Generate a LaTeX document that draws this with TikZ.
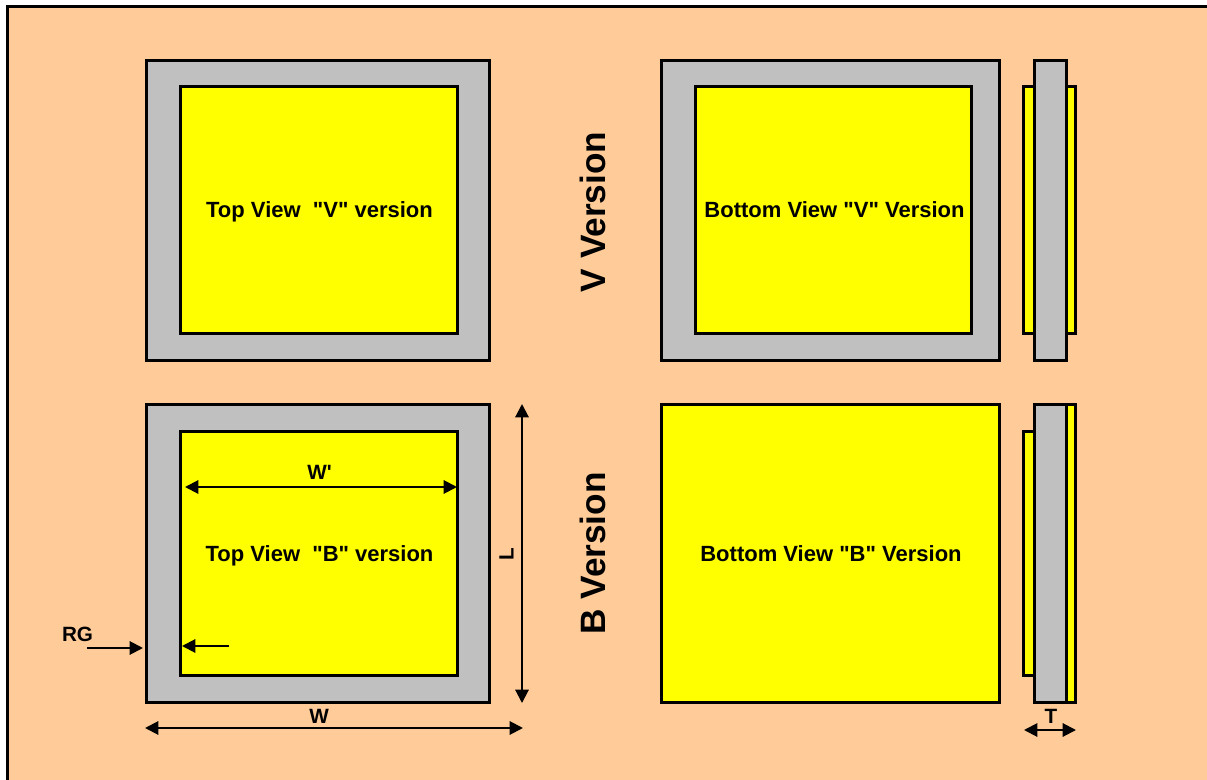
\documentclass[tikz,border=0pt]{standalone}
\usepackage{fontspec}
\newfontfamily\lib{Liberation Sans}
\usetikzlibrary{arrows.meta}
\definecolor{peach}{RGB}{255,204,153}
\definecolor{silver}{RGB}{192,192,192}
\definecolor{yel}{RGB}{255,255,0}
\tikzset{
  x=0.75pt,y=-0.75pt,
  gbox/.style={draw=black,line width=2.25pt,fill=silver},
  ybox/.style={draw=black,line width=2.25pt,fill=yel},
  lab/.style={font=\lib\bfseries\fontsize{16.5}{19}\selectfont,text=black,inner sep=0pt,anchor=base},
  dimlab/.style={font=\lib\bfseries\fontsize{15.5}{18}\selectfont,text=black,inner sep=0pt},
  vlab/.style={font=\lib\bfseries\fontsize{26.4}{30}\selectfont,text=black,inner sep=0pt,rotate=90},
  dim/.style={draw=black,line width=1.5pt,{Triangle[length=10pt,width=10pt]}-{Triangle[length=10pt,width=10pt]}},
  one/.style={draw=black,line width=1.5pt,-{Triangle[length=10pt,width=10pt]}}
}
\begin{document}
\begin{tikzpicture}
\useasboundingbox (0,0) rectangle (1207,780);
\fill[white] (0,0) rectangle (1207,780);
\begin{scope}
\clip (0,0) rectangle (1207,780);
\draw[draw=black,line width=2.25pt,fill=peach] (7.5,6.5) rectangle (1225,800);
\end{scope}
% top row
\draw[gbox] (146,60.5) rectangle (489.5,361);
\draw[ybox] (180.5,87) rectangle (457,334);
\node[lab] (tv) at (319.5,217.5) {Top View~~"V" version};
\draw[gbox] (661,60.5) rectangle (999.5,361);
\draw[ybox] (695.5,87) rectangle (971.5,334);
\node[lab] (bv) at (834.5,217.5) {Bottom View "V" Version};
\draw[ybox] (1023.5,87) rectangle (1075.5,334);
\draw[gbox] (1034,60.5) rectangle (1066,361);
% bottom row
\draw[gbox] (146,405) rectangle (489.5,702);
\draw[ybox] (180.5,432) rectangle (457,675);
\node[lab] (tb) at (319.5,561.5) {Top View~~"B" version};
\draw[ybox] (661,405) rectangle (999.5,702);
\node[lab] (bb) at (831,561.5) {Bottom View "B" Version};
\draw[ybox] (1023.5,432) rectangle (1040,675);
\draw[ybox] (1060,405) rectangle (1075.5,702);
\draw[gbox] (1034,405) rectangle (1066,702);
% rotated labels
\node[vlab] (vv) at (592.5,212) {V Version};
\node[vlab] (bvv) at (592.5,553.5) {B Version};
% dimensions
\coordinate (wpa) at (185,487); \coordinate (wpb) at (457,487);
\draw[dim] (wpa) -- (wpb);
\node[dimlab] (wp) at (319.5,472) {W'};
\coordinate (la) at (522,404); \coordinate (lb) at (522,703);
\draw[dim] (la) -- (lb);
\node[dimlab,rotate=90] (l) at (506.5,554) {L};
\coordinate (wa) at (145,728); \coordinate (wb) at (523,728);
\draw[dim] (wa) -- (wb);
\node[dimlab] (w) at (319,716) {W};
\coordinate (ta) at (1024,730); \coordinate (tb) at (1076,730);
\draw[dim] (ta) -- (tb);
\node[dimlab] (t) at (1051,716.5) {T};
\node[dimlab] (rg) at (77.5,634.5) {RG};
\coordinate (ra) at (87,648); \coordinate (rb) at (143,648);
\draw[one] (ra) -- (rb);
\coordinate (ia) at (229,646); \coordinate (ib) at (182,646);
\draw[one] (ia) -- (ib);
\end{tikzpicture}
\end{document}
